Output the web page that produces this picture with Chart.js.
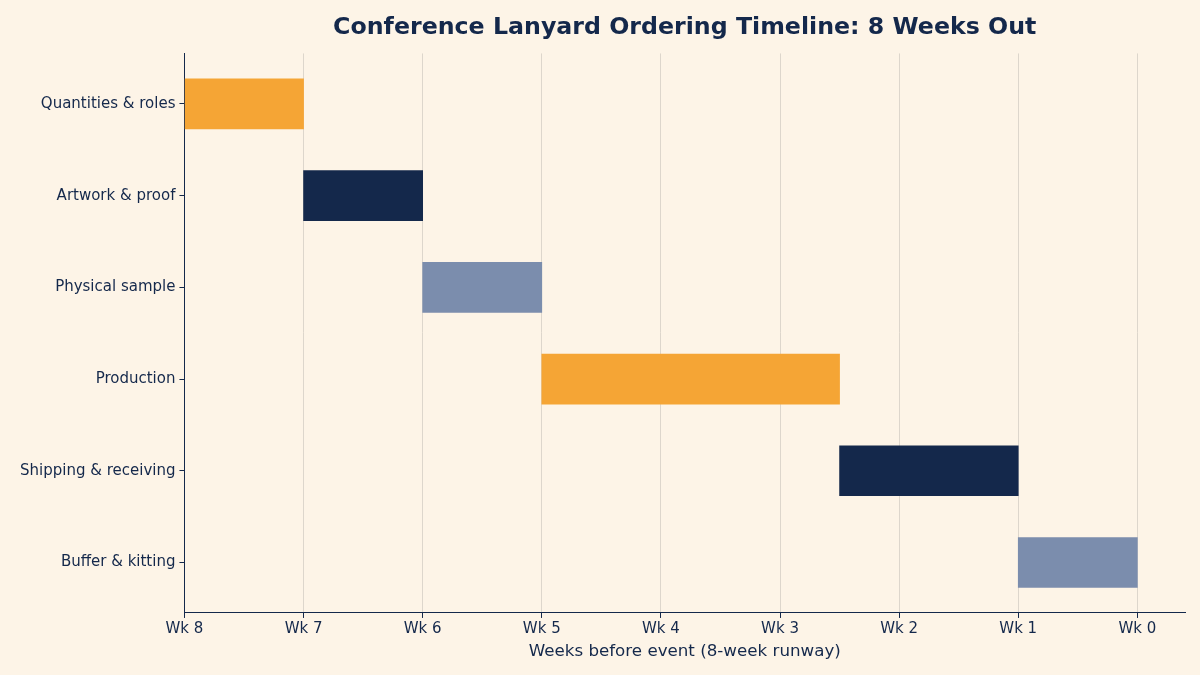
<!DOCTYPE html>
<html>
<head>
<meta charset="utf-8">
<script src="https://cdn.jsdelivr.net/npm/chart.js@4.4.1/dist/chart.umd.min.js"></script>
<style>
  html, body { margin: 0; padding: 0; background: #FDF4E7; }
  #wrap { width: 1200px; height: 675px; }
</style>
</head>
<body>
<div id="wrap"><canvas id="timeline" width="1200" height="675"></canvas></div>
<script>
// Tasks, top to bottom
const tasks = ['Quantities & roles', 'Artwork & proof', 'Physical sample', 'Production', 'Shipping & receiving', 'Buffer & kitting'];
// Start / end in weeks elapsed since Wk 8
const taskStarts = [0, 1, 2, 3, 5.5, 7];
const taskEnds = [1, 2, 3, 5.5, 7, 8];
const taskColors = ['#F5A535', '#14284B', '#7B8DAD', '#F5A535', '#14284B', '#7B8DAD'];
// X ticks: position and label
const weekTicks = [0, 1, 2, 3, 4, 5, 6, 7, 8];
const weekLabels = ['Wk 8', 'Wk 7', 'Wk 6', 'Wk 5', 'Wk 4', 'Wk 3', 'Wk 2', 'Wk 1', 'Wk 0'];

const navy = '#14284B';
const font = '"DejaVu Sans"';

// center the title over the plot area rather than the whole canvas
const titleOverPlot = {
    id: 'titleOverPlot',
    afterLayout(chart) {
        const t = chart.titleBlock;
        if (t) {
            t.left = chart.chartArea.left;
            t.right = chart.chartArea.right;
        }
    }
};

const ctx = document.getElementById('timeline').getContext('2d');
new Chart(ctx, {
    type: 'bar',
    data: {
        datasets: [{
            data: tasks.map((t, i) => ({ x: [taskStarts[i], taskEnds[i]], y: i })),
            backgroundColor: taskColors,
            borderWidth: 0,
            barThickness: 50
        }]
    },
    options: {
        indexAxis: 'y',
        responsive: false,
        animation: false,
        layout: { padding: { left: 16, right: 15, top: 0, bottom: 13 } },
        plugins: {
            legend: { display: false },
            tooltip: { enabled: false },
            title: {
                display: true,
                text: 'Conference Lanyard Ordering Timeline: 8 Weeks Out',
                color: navy,
                font: { family: font, size: 23.7, weight: 'bold' },
                padding: { top: 14, bottom: 11 }
            }
        },
        scales: {
            x: {
                type: 'linear',
                min: 0,
                max: 8.4,
                afterBuildTicks: scale => { scale.ticks = weekTicks.map(v => ({ value: v })); },
                ticks: {
                    color: navy,
                    font: { family: font, size: 15 },
                    padding: 2,
                    maxRotation: 0,
                    callback: (v) => weekLabels[weekTicks.indexOf(v)]
                },
                grid: { color: '#DDD6CC', lineWidth: 1, tickColor: navy, tickLength: 5 },
                border: { display: true, color: navy, width: 1 },
                title: {
                    display: true,
                    text: 'Weeks before event (8-week runway)',
                    color: navy,
                    font: { family: font, size: 16.7 },
                    padding: { top: 2, bottom: 0 }
                }
            },
            y: {
                type: 'linear',
                reverse: true,
                offset: false,
                min: -0.55,
                max: 5.55,
                afterBuildTicks: scale => { scale.ticks = tasks.map((t, i) => ({ value: i })); },
                ticks: {
                    color: navy,
                    font: { family: font, size: 15 },
                    padding: 4,
                    callback: (v) => tasks[v]
                },
                grid: { offset: false, drawOnChartArea: false, tickColor: navy, tickLength: 5 },
                border: { display: true, color: navy, width: 1 }
            }
        }
    },
    plugins: [titleOverPlot]
});
</script>
</body>
</html>
